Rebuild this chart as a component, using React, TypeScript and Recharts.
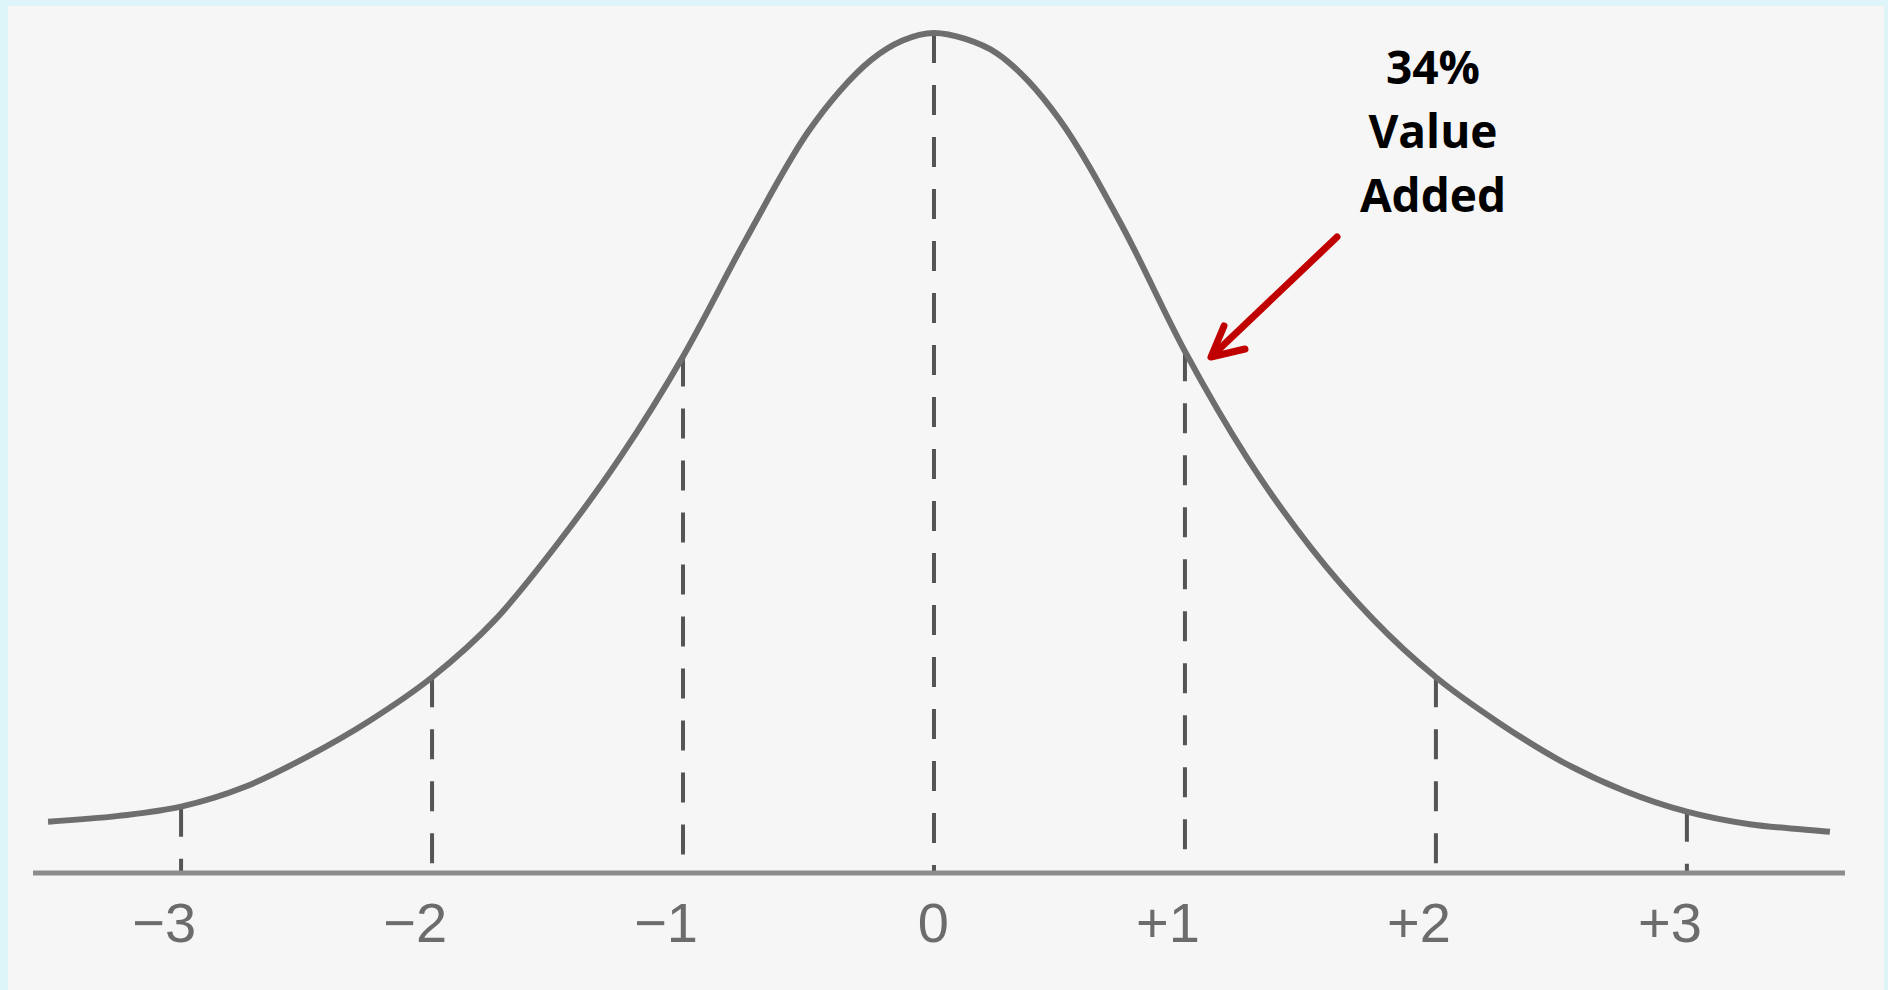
import React from 'react';
import { LineChart, Line, XAxis, YAxis, ReferenceLine } from 'recharts';

// curve: position in sigma, height as % of the peak
const sigma = [
  -3.53, -3.25, -3, -2.75, -2.5, -2.25, -2, -1.75, -1.5, -1.25,
  -1, -0.75, -0.5, -0.375, -0.25, -0.125, 0, 0.125, 0.25, 0.375,
  0.5, 0.75, 1, 1.25, 1.5, 1.75, 2, 2.25, 2.5, 2.75,
  3, 3.25, 3.5, 3.57,
];
const height = [
  6.1, 6.8, 7.9, 10.2, 13.8, 18.1, 23.3, 30.1, 39.2, 49.5,
  61.5, 75.4, 88.3, 93.1, 96.8, 99.1, 100, 99.3, 97.6, 94.3,
  89.7, 77.0, 62.1, 49.3, 38.8, 30.2, 23.3, 17.9, 13.3, 9.8,
  7.3, 5.8, 5.1, 4.9,
];
const ticks = [-3, -2, -1, 0, 1, 2, 3];
const tickLabels = ['\u22123', '\u22122', '\u22121', '0', '+1', '+2', '+3'];
const noteLines = ['34%', 'Value', 'Added'];

const data = sigma.map((x, i) => ({ x, y: height[i] }));
const heightAt = (t: number) => height[sigma.indexOf(t)];

const SigmaTick = (props: any) => {
  const { x, y, payload } = props;
  const label = tickLabels[ticks.indexOf(payload.value)];
  return (
    <text
      x={x + 15}
      y={y}
      dy={69}
      textAnchor="end"
      fontFamily="'Liberation Sans', Arial, sans-serif"
      fontSize={56}
      fill="#6c6c6c"
    >
      {label}
    </text>
  );
};

export default function App() {
  return (
    <div style={{ position: 'absolute', left: 0, top: 0, width: 1888, height: 990, background: '#ddf4f9' }}>
      <div style={{ position: 'absolute', left: 8, top: 6, width: 1876, height: 984, background: '#f6f6f6' }} />
      <div style={{ position: 'absolute', left: 0, top: 0 }}>
        <LineChart width={1888} height={990} data={data} margin={{ top: 33, right: 43, left: 33, bottom: 0 }}>
          <XAxis
            dataKey="x"
            type="number"
            domain={[-3.59, 3.63]}
            ticks={ticks}
            interval={0}
            height={117}
            tickSize={0}
            tickMargin={0}
            tickLine={false}
            axisLine={{ stroke: '#8c8c8c', strokeWidth: 5 }}
            tick={<SigmaTick />}
            allowDataOverflow
          />
          <YAxis hide domain={[0, 100]} />
          {ticks.map(t => (
            <ReferenceLine
              key={t}
              segment={[{ x: t, y: heightAt(t) }, { x: t, y: 0 }]}
              stroke="#555555"
              strokeWidth={4}
              strokeDasharray="30 22"
              ifOverflow="visible"
            />
          ))}
          <Line
            dataKey="y"
            type="monotone"
            stroke="#6e6e6e"
            strokeWidth={6}
            dot={false}
            activeDot={false}
            isAnimationActive={false}
          />
        </LineChart>
      </div>
      <svg width={1888} height={990} style={{ position: 'absolute', left: 0, top: 0, pointerEvents: 'none' }}>
        {noteLines.map((line, i) => (
          <text
            key={line}
            x={1433}
            y={84 + i * 64}
            textAnchor="middle"
            fontFamily="'Open Sans', sans-serif"
            fontWeight={700}
            fontSize={46}
            fill="#000"
          >
            {line}
          </text>
        ))}
        <g stroke="#c00000" strokeWidth={7} strokeLinecap="round" strokeLinejoin="round" fill="none">
          <line x1={1337} y1={237} x2={1213} y2={355} />
          <polyline points="1224,326 1211,357 1245,349" />
        </g>
      </svg>
    </div>
  );
}
